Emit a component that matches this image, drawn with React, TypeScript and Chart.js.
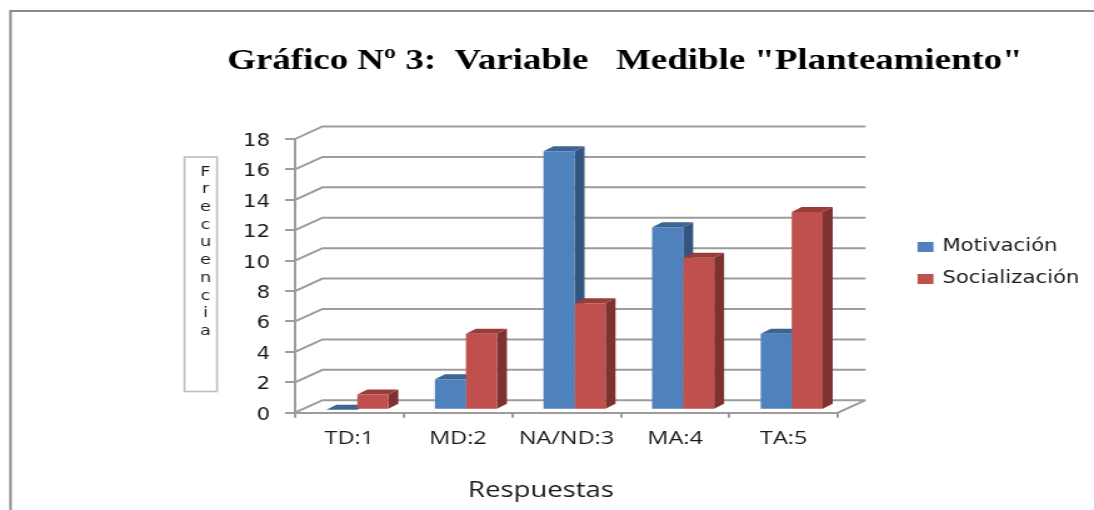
import React, { useEffect, useRef } from "react";
import { Chart, registerables } from "chart.js";

Chart.register(...registerables);

const categories = ["TD:1", "MD:2", "NA/ND:3", "MA:4", "TA:5"];
const motivacion = [0, 2, 17, 12, 5];
const socializacion = [1, 5, 7, 10, 13];
const yMax = 18;
const yStep = 2;
const titleText = 'Gráfico Nº 3:  Variable   Medible "Planteamiento"';
const yTitle = "Frecuencia";
const xTitle = "Respuestas";

// The reference is a horizontally stretched picture: the canvas is drawn narrow and scaled.
const W = 875;
const H = 510;
const SX = 1094 / W;
const px = (x: number) => x / SX;

const GRID = "#9c9c9c";
const TEXT = "#1a1a1a";
const SANS = "'Open Sans', sans-serif";
const WIDE = "'DejaVu Sans', sans-serif";

const depth3d = {
  id: "depth3d",
  afterLayout(chart: any) {
    const t = chart.titleBlock;
    if (t) {
      t.left = px(625) - 400;
      t.right = px(625) + 400;
    }
    const l = chart.legend;
    if (l) {
      l.left = px(917.5) - 15 + 1.45;
      l.right = W;
      l.top = 223.5;
      l.bottom = 320;
    }
  },
  beforeDraw(chart: any) {
    const c = chart.ctx;
    c.save();
    c.strokeStyle = "#8a8a8a";
    c.lineWidth = 2;
    c.beginPath();
    c.moveTo(px(10.5), H);
    c.lineTo(px(10.5), 11);
    c.lineTo(W, 11);
    c.stroke();

    // "Frecuencia" stacked label box
    c.strokeStyle = "#bdbdbd";
    c.lineWidth = 1.6;
    c.strokeRect(px(184.5), 157, px(217) - px(184.5), 234.5);
    c.fillStyle = TEXT;
    c.font = `14px ${WIDE}`;
    c.textAlign = "center";
    c.textBaseline = "middle";
    yTitle.split("").forEach((ch, i) => c.fillText(ch, px(205.5), 172 + i * 17.7));

    // x-axis caption
    c.font = `22px ${SANS}`;
    c.fillText(xTitle, px(541), 491);
    c.restore();
  },
  beforeDatasetsDraw(chart: any) {
    const c = chart.ctx;
    const y = chart.scales.y;
    const x = chart.scales.x;
    const dx = px(27.5);
    const dy = -12.5;
    c.save();
    c.strokeStyle = GRID;
    c.lineWidth = 2;
    c.beginPath();
    for (let v = 0; v <= yMax; v += yStep) {
      const p = y.getPixelForValue(v);
      c.moveTo(x.left, p);
      c.lineTo(x.left + dx, p + dy);
      c.lineTo(x.right + dx, p + dy);
    }
    const b = y.getPixelForValue(0);
    c.moveTo(x.right, b);
    c.lineTo(x.right + dx, b + dy);
    c.stroke();
    c.restore();

    // bars stand slightly behind the front axis
    c.save();
    c.translate(px(8), -3);
    const ddx = px(10);
    const ddy = -5;
    const tones = [
      { top: "#3d6594", side: "#33557f" },
      { top: "#973d3a", side: "#7e3230" },
    ];
    [0, 1].forEach((d) => {
      chart.getDatasetMeta(d).data.forEach((bar: any) => {
        const l = bar.x - bar.width / 2;
        const r = bar.x + bar.width / 2;
        const t = bar.y;
        const bt = bar.base;
        c.fillStyle = tones[d].side;
        c.beginPath();
        c.moveTo(r, t);
        c.lineTo(r + ddx, t + ddy);
        c.lineTo(r + ddx, bt + ddy);
        c.lineTo(r, bt);
        c.closePath();
        c.fill();
        c.fillStyle = tones[d].top;
        c.beginPath();
        c.moveTo(l, t);
        c.lineTo(l + ddx, t + ddy);
        c.lineTo(r + ddx, t + ddy);
        c.lineTo(r, t);
        c.closePath();
        c.fill();
      });
    });
  },
  afterDatasetsDraw(chart: any) {
    chart.ctx.restore();
  },
};

export default function App() {
  const ref = useRef<HTMLCanvasElement>(null);
  useEffect(() => {
    const chart = new Chart(ref.current as HTMLCanvasElement, {
      type: "bar",
      data: {
        labels: categories,
        datasets: [
          { label: "Motivación", data: motivacion, backgroundColor: "#4F81BD" },
          { label: "Socialización", data: socializacion, backgroundColor: "#C0504D" },
        ],
      },
      options: {
        animation: false,
        responsive: false,
        devicePixelRatio: 1,
        events: [],
        layout: { padding: { left: 100, right: W - px(838) - 100, top: 0, bottom: 0 } },
        datasets: { bar: { barPercentage: 1, categoryPercentage: 0.571 } },
        scales: {
          x: {
            afterFit: (s: any) => {
              s.height = H - 412.7;
            },
            grid: { display: true, drawOnChartArea: false, drawTicks: true, tickLength: 5, color: GRID, lineWidth: 2 },
            border: { display: true, color: GRID, width: 2 },
            ticks: { color: TEXT, font: { family: SANS, size: 18.8 }, padding: 10, maxRotation: 0 },
          },
          y: {
            min: 0,
            max: yMax,
            afterFit: (s: any) => {
              s.width = px(295) - 100;
            },
            grid: { display: true, drawOnChartArea: false, drawTicks: true, tickLength: px(10), color: GRID, lineWidth: 2 },
            border: { display: true, color: GRID, width: 2 },
            ticks: {
              stepSize: yStep,
              color: TEXT,
              font: { family: WIDE, size: 17, lineHeight: "5px" },
              padding: 12,
              // an empty first line nudges the number down to the reference's baseline
              callback: (v: any) => ["", String(v)],
            },
          },
        },
        plugins: {
          tooltip: { enabled: false },
          title: {
            display: true,
            text: titleText,
            color: "#000",
            font: { family: "'Liberation Serif', serif", size: 29.5, weight: "bold" },
            padding: { top: 43.3, bottom: 60.3 },
          },
          legend: {
            display: true,
            position: "right",
            align: "start",
            maxWidth: 100,
            labels: {
              boxWidth: 9.9,
              boxHeight: 7.1,
              padding: 15,
              color: TEXT,
              font: { family: WIDE, size: 17 },
              generateLabels: (c: any) =>
                Chart.defaults.plugins.legend.labels
                  .generateLabels(c)
                  .map((i: any) => ({ ...i, lineWidth: 2.9, strokeStyle: i.fillStyle })),
            },
          },
        },
      },
      plugins: [depth3d],
    } as any);
    return () => chart.destroy();
  }, []);
  return (
    <div
      style={{
        position: "absolute",
        left: 0,
        top: 0,
        width: W,
        height: H,
        transform: `scaleX(${SX})`,
        transformOrigin: "0 0",
      }}
    >
      <canvas ref={ref} width={W} height={H} style={{ display: "block" }} />
    </div>
  );
}
